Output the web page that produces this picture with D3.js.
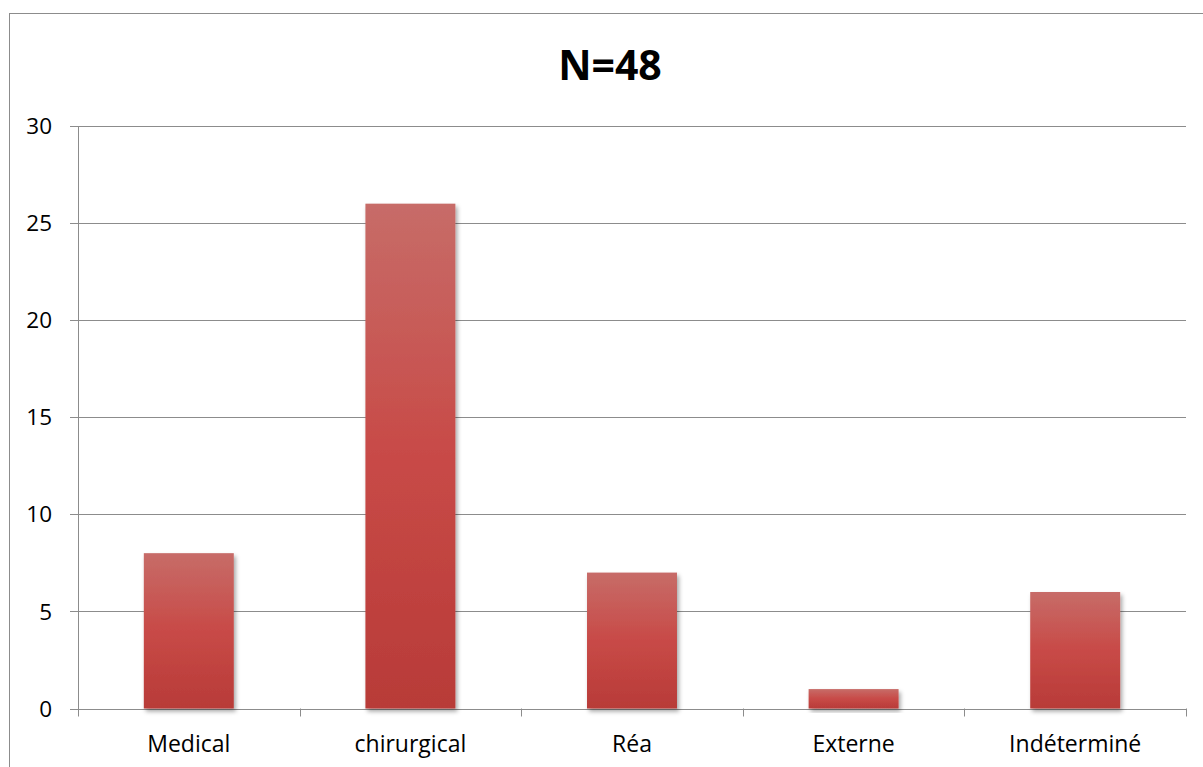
<!DOCTYPE html>
<html>
<head>
<meta charset="utf-8">
<script src="https://cdn.jsdelivr.net/npm/d3@7"></script>
<style>
  html, body { margin: 0; padding: 0; background: #fff; }
  svg { display: block; }
</style>
</head>
<body>
<div id="chart"></div>
<script>
// Origin of cases, by service
const title = "N=48";
const categories = ["Medical", "chirurgical", "Réa", "Externe", "Indéterminé"];
const counts = [8, 26, 7, 1, 6];
const yTicks = [0, 5, 10, 15, 20, 25, 30];

const W = 1203, H = 767;
const margin = { left: 78, right: 17, top: 126, bottom: 58 };

const svg = d3.select("#chart").append("svg")
  .attr("width", W).attr("height", H);

const defs = svg.append("defs");
const grad = defs.append("linearGradient")
  .attr("id", "barFill").attr("x1", 0).attr("y1", 0).attr("x2", 0).attr("y2", 1);
grad.append("stop").attr("offset", "0%").attr("stop-color", "#c76c68");
grad.append("stop").attr("offset", "50%").attr("stop-color", "#c84a47");
grad.append("stop").attr("offset", "100%").attr("stop-color", "#b83b38");

const shadow = defs.append("filter").attr("id", "barShadow")
  .attr("x", "-10%").attr("y", "-10%").attr("width", "130%").attr("height", "130%");
shadow.append("feDropShadow")
  .attr("dx", 2).attr("dy", 3).attr("stdDeviation", 2.2)
  .attr("flood-color", "#000").attr("flood-opacity", 0.35);

// chart frame
svg.append("rect")
  .attr("x", 9.5).attr("y", 13.5)
  .attr("width", W + 10).attr("height", H + 10)
  .attr("fill", "none").attr("stroke", "#8c8c8c").attr("stroke-width", 1);

const x = d3.scaleBand()
  .domain(categories)
  .range([margin.left, W - margin.right])
  .paddingInner(0.594).paddingOuter(0.297);

const y = d3.scaleLinear()
  .domain([0, 30])
  .range([H - margin.bottom - 0.5, margin.top]);

const font = "'Open Sans', 'Liberation Sans', sans-serif";

// horizontal gridlines
svg.append("g")
  .selectAll("line")
  .data(yTicks)
  .join("line")
  .attr("x1", margin.left - 8)
  .attr("x2", W - margin.right)
  .attr("y1", d => Math.round(y(d)) + 0.5)
  .attr("y2", d => Math.round(y(d)) + 0.5)
  .attr("stroke", "#8c8c8c").attr("stroke-width", 1);

// y tick labels
svg.append("g")
  .selectAll("text")
  .data(yTicks)
  .join("text")
  .attr("x", 52)
  .attr("y", d => y(d))
  .attr("dy", "0.36em")
  .attr("text-anchor", "end")
  .attr("font-family", font)
  .attr("font-size", 22.5)
  .attr("fill", "#000")
  .text(d => d);

// y axis line
svg.append("line")
  .attr("x1", margin.left + 0.5).attr("x2", margin.left + 0.5)
  .attr("y1", y(30)).attr("y2", y(0) + 8)
  .attr("stroke", "#8c8c8c");

// category separators on the x axis
const seps = d3.range(categories.length + 1).map(i => margin.left + i * (W - margin.right - margin.left) / categories.length);
svg.append("g")
  .selectAll("line")
  .data(seps.slice(1))
  .join("line")
  .attr("x1", d => Math.round(d) + 0.5).attr("x2", d => Math.round(d) + 0.5)
  .attr("y1", y(0)).attr("y2", y(0) + 8)
  .attr("stroke", "#8c8c8c");

// bars
svg.append("g")
  .selectAll("rect")
  .data(categories.map((c, i) => ({ c, v: counts[i] })))
  .join("rect")
  .attr("x", d => x(d.c))
  .attr("width", x.bandwidth())
  .attr("y", d => y(d.v))
  .attr("height", d => y(0) - y(d.v))
  .attr("fill", "url(#barFill)")
  .attr("filter", "url(#barShadow)");

// category labels
svg.append("g")
  .selectAll("text")
  .data(categories)
  .join("text")
  .attr("x", d => x(d) + x.bandwidth() / 2)
  .attr("y", 752)
  .attr("text-anchor", "middle")
  .attr("font-family", font)
  .attr("font-size", 23)
  .attr("fill", "#000")
  .text(d => d);

// title
svg.append("text")
  .attr("x", 610).attr("y", 80)
  .attr("text-anchor", "middle")
  .attr("font-family", font)
  .attr("font-weight", "bold")
  .attr("font-size", 41)
  .attr("fill", "#000")
  .text(title);
</script>
</body>
</html>
